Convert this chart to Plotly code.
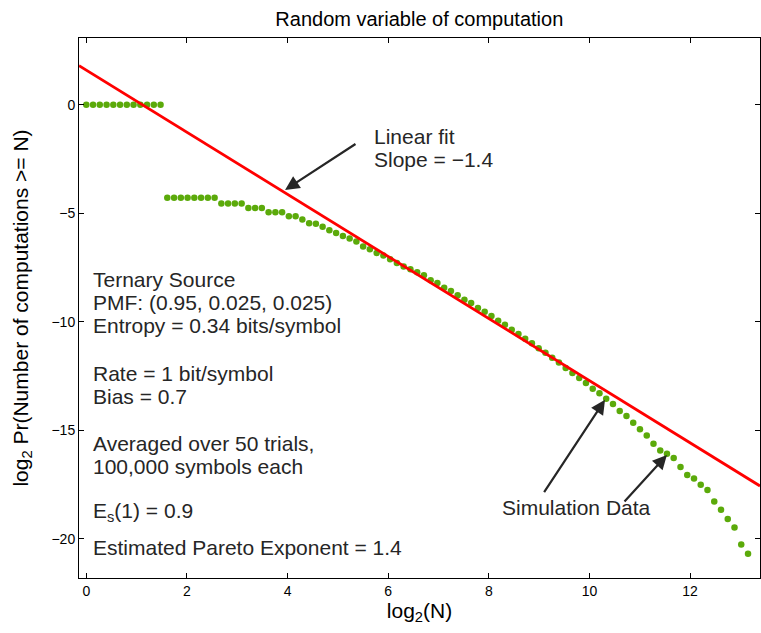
import plotly.graph_objects as go

# ---- data ----
x_vals = [0.0, 0.134, 0.268, 0.403, 0.537, 0.671, 0.805, 0.939, 1.074, 1.208,
          1.342, 1.476, 1.61, 1.745, 1.879, 2.013, 2.147, 2.281, 2.416, 2.55,
          2.684, 2.818, 2.952, 3.087, 3.221, 3.355, 3.489, 3.623, 3.758, 3.892,
          4.026, 4.16, 4.294, 4.429, 4.563, 4.697, 4.831, 4.965, 5.1, 5.234,
          5.368, 5.502, 5.636, 5.771, 5.905, 6.039, 6.173, 6.307, 6.442, 6.576,
          6.71, 6.844, 6.978, 7.113, 7.247, 7.381, 7.515, 7.649, 7.784, 7.918,
          8.052, 8.186, 8.32, 8.455, 8.589, 8.723, 8.857, 8.991, 9.126, 9.26,
          9.394, 9.528, 9.662, 9.797, 9.931, 10.065, 10.199, 10.333, 10.468, 10.602,
          10.736, 10.87, 11.004, 11.139, 11.273, 11.407, 11.541, 11.675, 11.81, 11.944,
          12.078, 12.212, 12.346, 12.481, 12.615, 12.749, 12.883, 13.017, 13.152]
y_vals = [0.0, 0.0, 0.0, 0.0, 0.0, 0.0, 0.0, 0.0, 0.0, 0.0,
          0.0, 0.0, -4.28, -4.28, -4.28, -4.28, -4.28, -4.28, -4.28, -4.28,
          -4.54, -4.54, -4.54, -4.54, -4.75, -4.75, -4.75, -4.95, -4.95, -4.95,
          -5.13, -5.13, -5.28, -5.45, -5.48, -5.62, -5.78, -5.91, -6.04, -6.16,
          -6.30, -6.53, -6.65, -6.83, -6.94, -7.11, -7.29, -7.45, -7.57, -7.71,
          -7.85, -8.08, -8.21, -8.43, -8.58, -8.77, -8.98, -9.13, -9.36, -9.53,
          -9.73, -9.95, -10.13, -10.36, -10.56, -10.78, -10.98, -11.22, -11.42, -11.65,
          -11.87, -12.13, -12.36, -12.59, -12.82, -13.08, -13.29, -13.54, -13.78, -14.10,
          -14.34, -14.65, -14.95, -15.24, -15.61, -15.92, -16.08, -16.27, -16.69, -17.05,
          -17.22, -17.50, -17.74, -18.27, -18.66, -19.08, -19.47, -20.26, -20.68]
fit_slope = -1.431
fit_intercept = 1.6
x_range = [-0.145, 13.39]
y_range = [-21.8, 3.08]
x_ticks = [0, 2, 4, 6, 8, 10, 12]
y_ticks = [0, -5, -10, -15, -20]

fit_x = x_range
fit_y = [fit_intercept + fit_slope * v for v in fit_x]

FONT = "Liberation Sans, Arial, Helvetica, sans-serif"
TXT = "#262626"
FS = 21

fig = go.Figure()
fig.add_trace(go.Scatter(x=x_vals, y=y_vals, mode="markers",
                         marker=dict(color="#5BAA0A", size=6.5, line=dict(width=0)),
                         showlegend=False, cliponaxis=True))
fig.add_trace(go.Scatter(x=fit_x, y=fit_y, mode="lines",
                         line=dict(color="#FF0000", width=2.8),
                         showlegend=False))

axis_common = dict(showgrid=False, zeroline=False, showline=True, linecolor="black",
                   linewidth=1, mirror="ticks", ticks="inside", ticklen=5,
                   tickcolor="black", tickfont=dict(family=FONT, size=14, color="black"))
fig.update_xaxes(range=x_range, tickvals=x_ticks, title=dict(
    text="log<sub>2</sub>(N)", font=dict(family=FONT, size=FS, color="black"), standoff=0),
    **axis_common)
fig.update_yaxes(range=y_range, tickvals=y_ticks, title=dict(
    text="log<sub>2</sub> Pr(Number of computations >= N)",
    font=dict(family=FONT, size=FS, color="black"), standoff=17),
    **axis_common)

anns = []
left_lines = [
    ("Ternary Source", -8.06),
    ("PMF: (0.95, 0.025, 0.025)", -9.12),
    ("Entropy = 0.34 bits/symbol", -10.18),
    ("Rate = 1 bit/symbol", -12.39),
    ("Bias = 0.7", -13.45),
    ("Averaged over 50 trials,", -15.61),
    ("100,000 symbols each", -16.67),
    ("E<sub>s</sub>(1) = 0.9", -18.75),
    ("Estimated Pareto Exponent = 1.4", -20.40),
]
for t, yy in left_lines:
    anns.append(dict(x=0.09, y=yy, xref="x", yref="y", text=t, showarrow=False,
                     xanchor="left", yanchor="middle",
                     font=dict(family=FONT, size=FS, color=TXT)))
anns.append(dict(x=5.68, y=-1.47, xref="x", yref="y", text="Linear fit", showarrow=False,
                 xanchor="left", yanchor="middle", font=dict(family=FONT, size=FS, color=TXT)))
anns.append(dict(x=5.68, y=-2.53, xref="x", yref="y", text="Slope = \u22121.4", showarrow=False,
                 xanchor="left", yanchor="middle", font=dict(family=FONT, size=FS, color=TXT)))
anns.append(dict(x=9.75, y=-18.56, xref="x", yref="y", text="Simulation Data", showarrow=False,
                 xanchor="center", yanchor="middle", font=dict(family=FONT, size=FS, color=TXT)))

def arrow(tx, ty, sx, sy):
    return dict(x=tx, y=ty, ax=sx, ay=sy, xref="x", yref="y", axref="x", ayref="y",
                text="", showarrow=True, arrowhead=2, arrowsize=1.3, arrowwidth=2.2,
                arrowcolor=TXT, standoff=0)

anns.append(arrow(3.95, -3.92, 5.38, -1.76))
anns.append(arrow(10.31, -13.59, 9.08, -17.91))
anns.append(arrow(11.54, -16.13, 10.67, -18.34))

fig.update_layout(
    width=761, height=633,
    margin=dict(l=79, r=1, t=38, b=55),
    paper_bgcolor="white", plot_bgcolor="white",
    title=dict(text="Random variable of computation", x=0.551, xanchor="center",
               y=1 - 19 / 633, yanchor="middle",
               font=dict(family=FONT, size=20, color="black")),
    annotations=anns,
)
fig.write_html("out.html", config={"responsive": False, "displayModeBar": False},
               post_script="document.body.style.margin='0';document.body.style.overflow='hidden';")
